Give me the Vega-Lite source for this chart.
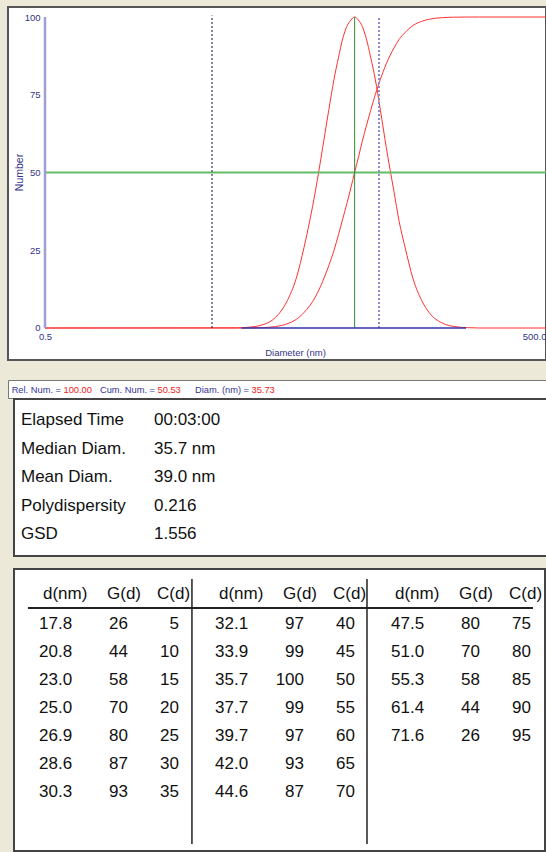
{
  "$schema": "https://vega.github.io/schema/vega-lite/v6.json",
  "background": "#ECE9D8",
  "padding": {"left": 7, "top": 6, "right": 0, "bottom": 0},
  "config": {
    "font": "Liberation Sans",
    "axisX": {"orient": "bottom", "offset": -32, "domain": false, "ticks": false, "tickSize": 0, "grid": false, "labelFlush": true, "labelOverlap": false, "labelPadding": 3, "labelFontSize": 9.5, "labelColor": "#333388", "titleFontSize": 9.5, "titleFontWeight": "normal", "titleColor": "#333388", "titleX": 287, "titleY": 24, "titleBaseline": "middle", "titleAlign": "center", "titlePadding": 0},
    "axisY": {"orient": "left", "offset": -37, "domain": false, "ticks": false, "tickSize": 0, "grid": false, "labelPadding": 5, "labelFontSize": 9.5, "labelColor": "#333388", "titleFontSize": 10.5, "titleFontWeight": "normal", "titleColor": "#333388", "titleX": -26, "titleY": 165, "titleAngle": 270, "titleBaseline": "middle", "titleAlign": "center", "titlePadding": 0}
  },
  "datasets": {
    "curve": [
      {"d": 0.5, "G": 0, "C": 0},
      {"d": 7, "G": 0.05, "C": 0},
      {"d": 8, "G": 0.18, "C": 0.02},
      {"d": 10, "G": 1.0, "C": 0.12},
      {"d": 12, "G": 3.4, "C": 0.47},
      {"d": 14, "G": 8.4, "C": 1.3},
      {"d": 16, "G": 16.1, "C": 2.8},
      {"d": 17.8, "G": 26, "C": 5},
      {"d": 20.8, "G": 44, "C": 10},
      {"d": 23.0, "G": 58, "C": 15},
      {"d": 25.0, "G": 70, "C": 20},
      {"d": 26.9, "G": 80, "C": 25},
      {"d": 28.6, "G": 87, "C": 30},
      {"d": 30.3, "G": 93, "C": 35},
      {"d": 32.1, "G": 97, "C": 40},
      {"d": 33.9, "G": 99, "C": 45},
      {"d": 35.7, "G": 100, "C": 50},
      {"d": 37.7, "G": 99, "C": 55},
      {"d": 39.7, "G": 97, "C": 60},
      {"d": 42.0, "G": 93, "C": 65},
      {"d": 44.6, "G": 87, "C": 70},
      {"d": 47.5, "G": 80, "C": 75},
      {"d": 51.0, "G": 70, "C": 80},
      {"d": 55.3, "G": 58, "C": 85},
      {"d": 61.4, "G": 44, "C": 90},
      {"d": 66, "G": 34.3, "C": 92.8},
      {"d": 71.6, "G": 26, "C": 95},
      {"d": 80, "G": 15.8, "C": 97.3},
      {"d": 90, "G": 8.9, "C": 98.6},
      {"d": 100, "G": 4.9, "C": 99.3},
      {"d": 120, "G": 1.55, "C": 99.8},
      {"d": 140, "G": 0.5, "C": 99.94},
      {"d": 170, "G": 0.1, "C": 100},
      {"d": 200, "G": 0, "C": 100},
      {"d": 500, "G": 0, "C": 100}
    ],
    "status": [
      {"slot": 0, "label": "Rel. Num. =", "value": "100.00"},
      {"slot": 1, "label": "Cum. Num. =", "value": "50.53"},
      {"slot": 2, "label": "Diam. (nm) =", "value": "35.73"}
    ],
    "info": [
      {"row": 0, "label": "Elapsed Time", "value": "00:03:00"},
      {"row": 1, "label": "Median Diam.", "value": "35.7 nm"},
      {"row": 2, "label": "Mean Diam.", "value": "39.0 nm"},
      {"row": 3, "label": "Polydispersity", "value": "0.216"},
      {"row": 4, "label": "GSD", "value": "1.556"}
    ],
    "blocks": [{"block": 0}, {"block": 1}, {"block": 2}],
    "table": [
      {"block": 0, "line": 0, "d": 17.8, "G": 26, "C": 5},
      {"block": 0, "line": 1, "d": 20.8, "G": 44, "C": 10},
      {"block": 0, "line": 2, "d": 23.0, "G": 58, "C": 15},
      {"block": 0, "line": 3, "d": 25.0, "G": 70, "C": 20},
      {"block": 0, "line": 4, "d": 26.9, "G": 80, "C": 25},
      {"block": 0, "line": 5, "d": 28.6, "G": 87, "C": 30},
      {"block": 0, "line": 6, "d": 30.3, "G": 93, "C": 35},
      {"block": 1, "line": 0, "d": 32.1, "G": 97, "C": 40},
      {"block": 1, "line": 1, "d": 33.9, "G": 99, "C": 45},
      {"block": 1, "line": 2, "d": 35.7, "G": 100, "C": 50},
      {"block": 1, "line": 3, "d": 37.7, "G": 99, "C": 55},
      {"block": 1, "line": 4, "d": 39.7, "G": 97, "C": 60},
      {"block": 1, "line": 5, "d": 42.0, "G": 93, "C": 65},
      {"block": 1, "line": 6, "d": 44.6, "G": 87, "C": 70},
      {"block": 2, "line": 0, "d": 47.5, "G": 80, "C": 75},
      {"block": 2, "line": 1, "d": 51.0, "G": 70, "C": 80},
      {"block": 2, "line": 2, "d": 55.3, "G": 58, "C": 85},
      {"block": 2, "line": 3, "d": 61.4, "G": 44, "C": 90},
      {"block": 2, "line": 4, "d": 71.6, "G": 26, "C": 95}
    ]
  },
  "spacing": 18,
  "vconcat": [
    {
      "width": 538,
      "height": 353,
      "view": {"fill": "white", "stroke": "#555555", "strokeWidth": 2},
      "layer": [
        {
          "data": {"name": "curve"},
          "mark": {"type": "line", "color": "#ff3030", "strokeWidth": 1, "interpolate": "monotone"},
          "encoding": {
            "x": {"field": "d", "type": "quantitative", "scale": {"type": "log", "domain": [0.3002, 500], "nice": false}, "axis": {"values": [0.5, 500], "format": ".1f", "title": "Diameter (nm)"}},
            "y": {"field": "G", "type": "quantitative", "scale": {"domain": [-10.29, 103.22], "nice": false, "zero": false}, "axis": {"values": [0, 25, 50, 75, 100], "title": "Number"}}
          }
        },
        {
          "data": {"name": "curve"},
          "mark": {"type": "line", "color": "#ff3030", "strokeWidth": 1, "interpolate": "monotone"},
          "encoding": {
            "x": {"field": "d", "type": "quantitative", "scale": {"type": "log", "domain": [0.3002, 500], "nice": false}, "axis": {"values": [0.5, 500], "format": ".1f", "title": "Diameter (nm)"}},
            "y": {"field": "C", "type": "quantitative", "scale": {"domain": [-10.29, 103.22], "nice": false, "zero": false}, "axis": {"values": [0, 25, 50, 75, 100], "title": "Number"}}
          }
        },
        {
          "data": {"values": [{}]},
          "mark": {"type": "rule", "color": "#66bb66", "strokeWidth": 2},
          "encoding": {
            "x": {"datum": 0.5, "type": "quantitative", "scale": {"type": "log", "domain": [0.3002, 500], "nice": false}, "axis": {"values": [0.5, 500], "format": ".1f", "title": "Diameter (nm)"}},
            "x2": {"datum": 500},
            "y": {"datum": 50, "type": "quantitative", "scale": {"domain": [-10.29, 103.22], "nice": false, "zero": false}, "axis": {"values": [0, 25, 50, 75, 100], "title": "Number"}}
          }
        },
        {
          "data": {"values": [{}]},
          "mark": {"type": "rule", "color": "#111133", "strokeWidth": 1, "strokeDash": [2, 2]},
          "encoding": {
            "x": {"datum": 5, "type": "quantitative", "scale": {"type": "log", "domain": [0.3002, 500], "nice": false}, "axis": {"values": [0.5, 500], "format": ".1f", "title": "Diameter (nm)"}},
            "y": {"datum": 0, "type": "quantitative", "scale": {"domain": [-10.29, 103.22], "nice": false, "zero": false}, "axis": {"values": [0, 25, 50, 75, 100], "title": "Number"}},
            "y2": {"datum": 100.5}
          }
        },
        {
          "data": {"values": [{}]},
          "mark": {"type": "rule", "color": "#8c8cd0", "strokeWidth": 2, "strokeDash": [2, 2]},
          "encoding": {
            "x": {"datum": 50, "type": "quantitative", "scale": {"type": "log", "domain": [0.3002, 500], "nice": false}, "axis": {"values": [0.5, 500], "format": ".1f", "title": "Diameter (nm)"}},
            "y": {"datum": 0, "type": "quantitative", "scale": {"domain": [-10.29, 103.22], "nice": false, "zero": false}, "axis": {"values": [0, 25, 50, 75, 100], "title": "Number"}},
            "y2": {"datum": 100}
          }
        },
        {
          "data": {"values": [{}]},
          "mark": {"type": "rule", "color": "#2e8b2e", "strokeWidth": 1},
          "encoding": {
            "x": {"datum": 35.73, "type": "quantitative", "scale": {"type": "log", "domain": [0.3002, 500], "nice": false}, "axis": {"values": [0.5, 500], "format": ".1f", "title": "Diameter (nm)"}},
            "y": {"datum": 0, "type": "quantitative", "scale": {"domain": [-10.29, 103.22], "nice": false, "zero": false}, "axis": {"values": [0, 25, 50, 75, 100], "title": "Number"}},
            "y2": {"datum": 100}
          }
        },
        {
          "data": {"values": [{}]},
          "mark": {"type": "rule", "color": "#9f9fd4", "strokeWidth": 2.5},
          "encoding": {
            "x": {"datum": 0.5, "type": "quantitative", "scale": {"type": "log", "domain": [0.3002, 500], "nice": false}, "axis": {"values": [0.5, 500], "format": ".1f", "title": "Diameter (nm)"}},
            "y": {"datum": 0, "type": "quantitative", "scale": {"domain": [-10.29, 103.22], "nice": false, "zero": false}, "axis": {"values": [0, 25, 50, 75, 100], "title": "Number"}},
            "y2": {"datum": 100}
          }
        },
        {
          "data": {"values": [{}]},
          "mark": {"type": "rule", "color": "#3333aa", "strokeWidth": 1.5},
          "encoding": {
            "x": {"datum": 7.5, "type": "quantitative", "scale": {"type": "log", "domain": [0.3002, 500], "nice": false}, "axis": {"values": [0.5, 500], "format": ".1f", "title": "Diameter (nm)"}},
            "x2": {"datum": 166},
            "y": {"datum": 0, "type": "quantitative", "scale": {"domain": [-10.29, 103.22], "nice": false, "zero": false}, "axis": {"values": [0, 25, 50, 75, 100], "title": "Number"}}
          }
        }
      ]
    },
    {
      "spacing": -1,
      "vconcat": [
        {
          "width": 540,
          "height": 18,
          "view": {"fill": "white", "stroke": "#777777", "strokeWidth": 1},
          "data": {"name": "status"},
          "layer": [
            {
              "mark": {"type": "text", "align": "right", "baseline": "middle", "fontSize": 9.3, "color": "#333399", "dx": -1, "dy": 0.5},
              "encoding": {
                "x": {"field": "slot", "type": "quantitative", "scale": {"domain": [-0.5745, 5.1702], "nice": false, "zero": false}, "axis": null},
                "text": {"field": "label"}
              }
            },
            {
              "mark": {"type": "text", "align": "left", "baseline": "middle", "fontSize": 9.3, "color": "#ee2222", "dx": 1.5, "dy": 0.5},
              "encoding": {
                "x": {"field": "slot", "type": "quantitative", "scale": {"domain": [-0.5745, 5.1702], "nice": false, "zero": false}, "axis": null},
                "text": {"field": "value"}
              }
            }
          ]
        },
        {
          "spacing": 0,
          "hconcat": [
            {
              "width": 5,
              "height": 1,
              "view": {"fill": "#ECE9D8", "stroke": null},
              "data": {"values": [{}]},
              "mark": {"type": "point", "opacity": 0, "size": 0},
              "encoding": {}
            },
            {
              "spacing": 11,
              "vconcat": [
                {
                  "width": 540,
                  "height": 157,
                  "view": {"fill": "white", "stroke": "#444444", "strokeWidth": 2},
                  "data": {"name": "info"},
                  "layer": [
                    {
                      "mark": {"type": "text", "align": "left", "baseline": "middle", "fontSize": 17, "color": "#111111"},
                      "encoding": {
                        "x": {"datum": 0, "type": "quantitative", "scale": {"domain": [-0.0526, 4.0075], "nice": false, "zero": false}, "axis": null},
                        "y": {"field": "row", "type": "quantitative", "scale": {"domain": [-0.737, 4.772], "reverse": true, "nice": false, "zero": false}, "axis": null},
                        "text": {"field": "label"}
                      }
                    },
                    {
                      "mark": {"type": "text", "align": "left", "baseline": "middle", "fontSize": 17, "color": "#111111"},
                      "encoding": {
                        "x": {"datum": 1, "type": "quantitative", "scale": {"domain": [-0.0526, 4.0075], "nice": false, "zero": false}, "axis": null},
                        "y": {"field": "row", "type": "quantitative", "scale": {"domain": [-0.737, 4.772], "reverse": true, "nice": false, "zero": false}, "axis": null},
                        "text": {"field": "value"}
                      }
                    }
                  ]
                },
                {
                  "width": 531,
                  "height": 282,
                  "view": {"fill": "white", "stroke": "#444444", "strokeWidth": 2},
                  "layer": [
                    {
                      "data": {"name": "blocks"},
                      "mark": {"type": "text", "align": "left", "baseline": "middle", "fontSize": 17, "color": "#111111", "dx": 4},
                      "encoding": {
                        "x": {"field": "block", "type": "quantitative", "scale": {"domain": [-0.14205, 2.875], "nice": false, "zero": false}, "axis": null},
                        "y": {"datum": -1.05, "type": "quantitative", "scale": {"domain": [-1.9423, 8.1076], "reverse": true, "nice": false, "zero": false}, "axis": null},
                        "text": {"value": "d(nm)"}
                      }
                    },
                    {
                      "data": {"name": "blocks"},
                      "mark": {"type": "text", "align": "left", "baseline": "middle", "fontSize": 17, "color": "#111111", "dx": 68},
                      "encoding": {
                        "x": {"field": "block", "type": "quantitative", "scale": {"domain": [-0.14205, 2.875], "nice": false, "zero": false}, "axis": null},
                        "y": {"datum": -1.05, "type": "quantitative", "scale": {"domain": [-1.9423, 8.1076], "reverse": true, "nice": false, "zero": false}, "axis": null},
                        "text": {"value": "G(d)"}
                      }
                    },
                    {
                      "data": {"name": "blocks"},
                      "mark": {"type": "text", "align": "left", "baseline": "middle", "fontSize": 17, "color": "#111111", "dx": 118},
                      "encoding": {
                        "x": {"field": "block", "type": "quantitative", "scale": {"domain": [-0.14205, 2.875], "nice": false, "zero": false}, "axis": null},
                        "y": {"datum": -1.05, "type": "quantitative", "scale": {"domain": [-1.9423, 8.1076], "reverse": true, "nice": false, "zero": false}, "axis": null},
                        "text": {"value": "C(d)"}
                      }
                    },
                    {
                      "data": {"name": "table"},
                      "mark": {"type": "text", "align": "left", "baseline": "middle", "fontSize": 17, "color": "#111111"},
                      "encoding": {
                        "x": {"field": "block", "type": "quantitative", "scale": {"domain": [-0.14205, 2.875], "nice": false, "zero": false}, "axis": null},
                        "y": {"field": "line", "type": "quantitative", "scale": {"domain": [-1.9423, 8.1076], "reverse": true, "nice": false, "zero": false}, "axis": null},
                        "text": {"field": "d", "format": ".1f"}
                      }
                    },
                    {
                      "data": {"name": "table"},
                      "mark": {"type": "text", "align": "right", "baseline": "middle", "fontSize": 17, "color": "#111111", "dx": 89},
                      "encoding": {
                        "x": {"field": "block", "type": "quantitative", "scale": {"domain": [-0.14205, 2.875], "nice": false, "zero": false}, "axis": null},
                        "y": {"field": "line", "type": "quantitative", "scale": {"domain": [-1.9423, 8.1076], "reverse": true, "nice": false, "zero": false}, "axis": null},
                        "text": {"field": "G"}
                      }
                    },
                    {
                      "data": {"name": "table"},
                      "mark": {"type": "text", "align": "right", "baseline": "middle", "fontSize": 17, "color": "#111111", "dx": 140},
                      "encoding": {
                        "x": {"field": "block", "type": "quantitative", "scale": {"domain": [-0.14205, 2.875], "nice": false, "zero": false}, "axis": null},
                        "y": {"field": "line", "type": "quantitative", "scale": {"domain": [-1.9423, 8.1076], "reverse": true, "nice": false, "zero": false}, "axis": null},
                        "text": {"field": "C"}
                      }
                    },
                    {
                      "data": {"values": [{}]},
                      "mark": {"type": "rule", "color": "#222222", "strokeWidth": 2},
                      "encoding": {
                        "x": {"datum": -0.0625, "type": "quantitative", "scale": {"domain": [-0.14205, 2.875], "nice": false, "zero": false}, "axis": null},
                        "x2": {"datum": 2.807},
                        "y": {"datum": -0.552, "type": "quantitative", "scale": {"domain": [-1.9423, 8.1076], "reverse": true, "nice": false, "zero": false}, "axis": null}
                      }
                    },
                    {
                      "data": {"values": [{}]},
                      "mark": {"type": "rule", "color": "#222222", "strokeWidth": 1.5},
                      "encoding": {
                        "x": {"datum": 0.869, "type": "quantitative", "scale": {"domain": [-0.14205, 2.875], "nice": false, "zero": false}, "axis": null},
                        "y": {"datum": -1.586, "type": "quantitative", "scale": {"domain": [-1.9423, 8.1076], "reverse": true, "nice": false, "zero": false}, "axis": null},
                        "y2": {"datum": 7.858}
                      }
                    },
                    {
                      "data": {"values": [{}]},
                      "mark": {"type": "rule", "color": "#222222", "strokeWidth": 1.5},
                      "encoding": {
                        "x": {"datum": 1.8636, "type": "quantitative", "scale": {"domain": [-0.14205, 2.875], "nice": false, "zero": false}, "axis": null},
                        "y": {"datum": -1.586, "type": "quantitative", "scale": {"domain": [-1.9423, 8.1076], "reverse": true, "nice": false, "zero": false}, "axis": null},
                        "y2": {"datum": 7.858}
                      }
                    }
                  ]
                }
              ]
            }
          ]
        }
      ]
    }
  ]
}
